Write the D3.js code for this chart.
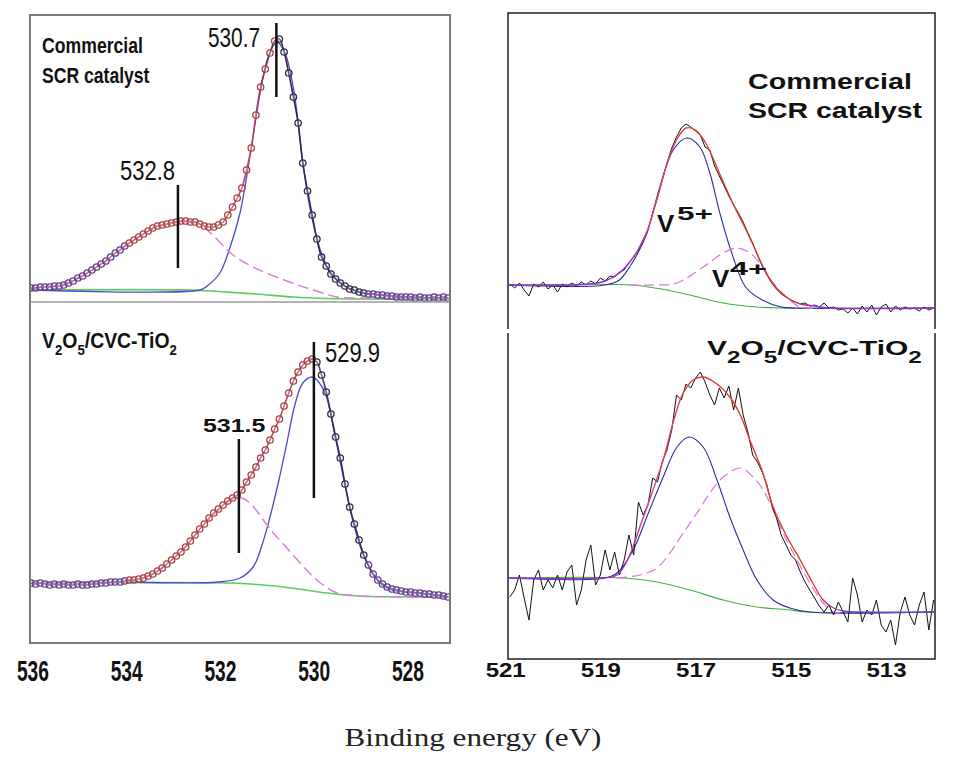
<!DOCTYPE html>
<html><head><meta charset="utf-8">
<script src="https://cdn.jsdelivr.net/npm/d3@7"></script>
<style>body{margin:0;background:#fff}svg{display:block}</style>
</head><body>
<svg id="c" width="960" height="783"></svg>
<script>
// ---------------- DATA ----------------
// O 1s spectra (left panels): measured points, energy grid 536.0 -> 527.1 eV step 0.1
const o1sStart = 536.0, o1sStep = 0.1;
const o1sCommercial = [15,15,16,16,16,17,17,18,20,22,
  25,27,30,33,36,39,42,46,50,53,
  57,60,63,66,69,72,75,77,78,79,
  80,81,82,82,81,81,79,77,76,76,
  78,81,88,96,105,115,133,155,188,216,
  234,250,262,264,251,230,206,180,140,112,
  88,64,46,37,29,24,20,17,14,13,
  11,10,9,9,8,8,7,7,6,6,
  6,6,5,6,5,5,6,5,6,5];
const o1sCVC = [60,59,60,59,58,59,58,59,58,58,
  59,58,58,59,59,60,60,61,61,61,
  62,63,63,64,65,67,69,72,75,79,
  83,87,91,96,102,108,114,119,125,130,
  134,138,142,145,148,153,161,168,176,185,
  193,203,214,224,237,250,262,271,278,282,
  284,281,268,251,229,206,185,159,136,119,
  103,88,78,69,63,59,56,54,53,52,
  51,51,50,50,49,49,48,48,47,46];
// O 1s fitted components [eV, intensity]
const o1sLatticeCommercial = [[536.0,13],[532.4,13],[532.24,17],[531.97,30],[531.75,56],[531.54,90],[531.33,146],[531.11,210],[530.94,246],[530.75,261],[530.58,250],[530.39,212],[530.2,140],[530.0,84],[529.79,48],[529.6,30],[529.3,17],[529.0,11],[528.5,8],[527.9,6],[527.06,5]];
const o1sSurfaceCommercial = [[536.0,15],[535.5,17],[535.1,22],[534.6,36],[534.1,53],[533.5,72],[533.0,80],[532.7,82],[532.39,79],[532.24,73],[532.1,67],[531.69,48],[531.26,36],[530.54,22],[529.98,13],[529.47,6],[528.98,5],[527.06,5]];
const o1sBackgroundCommercial = [[536.0,13],[532.6,13],[532.0,11.5],[531.2,9],[530.4,6],[529.7,4.5],[529.2,4],[527.06,4]];
const o1sLatticeCVC = [[533.9,61],[532.0,61],[531.54,65],[531.26,76],[531.07,98],[530.9,126],[530.71,163],[530.54,200],[530.37,238],[530.2,260],[530.0,266],[529.88,262],[529.71,248],[529.5,204],[529.3,158],[529.11,118],[528.9,87],[528.6,62],[528.3,53],[527.7,50],[527.06,46]];
const o1sSurfaceCVC = [[536.0,60],[534.5,61],[533.8,63],[533.4,69],[533.0,83],[532.6,102],[532.2,124],[531.9,137],[531.65,145],[531.45,144],[531.25,136],[530.9,114],[530.54,95],[530.12,73],[529.85,61],[529.47,50],[529.0,47],[527.06,46]];
const o1sBackgroundCVC = [[536.0,60],[531.7,60],[531.2,58.5],[530.6,56],[530.0,52],[529.4,48.5],[529.0,47],[527.06,46]];
const o1sPeaksCommercial = [530.7, 532.8];
const o1sPeaksCVC = [529.9, 531.5];

// V 2p spectra (right panels): raw counts, energy grid 520.9 -> 512.0 eV step 0.1
const v2pStart = 520.9, v2pStep = 0.1;
const v2pCommercial = [46,42,47,40,34,46,43,48,41,45,
  38,46,43,47,44,48,45,49,46,52,
  49,54,53,58,60,67,73,80,90,100,
  117,132,150,167,182,193,202,206,203,199,
  195,183,180,164,154,144,134,125,117,108,
  97,87,75,64,55,47,41,36,33,30,
  28,26,27,24,25,23,27,22,23,20,
  21,17,22,16,24,18,25,15,23,26,
  18,24,20,23,21,22,19,23,20,22];
const v2pCVC = [62,69,84,61,39,79,89,69,79,71,
  84,69,87,94,54,69,99,114,74,84,
  109,89,107,84,99,124,104,157,144,154,
  181,177,197,209,229,264,259,275,271,281,
  287,277,264,254,271,261,273,249,271,244,
  227,204,197,187,174,154,141,124,114,104,
  99,87,77,69,61,53,47,54,44,57,
  47,37,81,64,37,49,44,59,34,27,
  39,14,47,62,44,34,54,67,29,59];
const v5Commercial = [[520.94,45],[518.9,45],[518.6,50],[518.4,62],[518.2,78],[518.02,97],[517.75,143],[517.47,180],[517.18,192],[516.91,183],[516.7,157],[516.49,117],[516.24,77],[515.95,43],[515.6,30],[515.2,23],[514.9,22],[511.97,22]];
const v4Commercial = [[518.4,45],[517.8,45],[517.39,47],[516.84,63],[516.42,77],[516.13,82],[515.86,77],[515.65,67],[515.37,47],[515.02,30],[514.81,23],[514.5,22]];
const v2pBgCommercial = [[520.94,45],[518.3,45],[518.0,43],[517.6,40],[517.12,35],[516.42,27],[515.71,23],[515.16,22],[511.97,22]];
const v2pFitCommercial = [[520.94,45],[519.2,46],[518.9,49],[518.6,57],[518.4,67],[518.2,81],[518.0,101],[517.8,133],[517.6,166],[517.4,190],[517.2,202],[517.0,200],[516.8,188],[516.6,168],[516.4,146],[516.2,125],[516.0,106],[515.8,86],[515.6,65],[515.4,48],[515.2,37],[515.0,30],[514.8,26],[514.5,24],[514.2,22],[511.97,22]];
const v5CVC = [[520.94,81],[518.9,81],[518.65,86],[518.31,109],[518.0,145],[517.68,182],[517.39,212],[517.14,222],[516.84,212],[516.55,179],[516.28,142],[516.0,109],[515.71,79],[515.37,59],[515.02,51],[514.6,47],[511.97,47]];
const v4CVC = [[518.65,81],[518.17,84],[517.81,91],[517.54,106],[517.26,126],[516.97,146],[516.7,166],[516.42,182],[516.06,191],[515.79,182],[515.58,169],[515.37,149],[515.16,126],[514.87,99],[514.6,76],[514.32,56],[514.11,47],[513.8,47]];
const v2pBgCVC = [[520.94,81],[518.5,81],[517.81,77],[517.12,69],[516.42,59],[515.71,52],[515.02,49],[514.66,47],[511.97,47]];
const v2pFitCVC = [[520.94,81],[519.0,81],[518.65,84],[518.4,102],[518.17,132],[517.9,168],[517.68,199],[517.45,240],[517.26,266],[517.05,279],[516.84,282],[516.55,275],[516.28,262],[516.05,243],[515.86,219],[515.6,188],[515.37,152],[515.1,124],[514.8,99],[514.55,77],[514.32,59],[514.1,51],[513.9,48],[513.6,47],[511.97,47]];

// tick labels
const o1sTicks = [536, 534, 532, 530, 528];
const v2pTicks = [521, 519, 517, 515, 513];
const axisTitle = "Binding energy (eV)";

// ---------------- DRAW ----------------
const svg = d3.select('#c');
const SANS = '"Liberation Sans", Arial, Helvetica, sans-serif';
const NARROW = '"Liberation Sans Narrow", "Liberation Sans", Arial, sans-serif';
const SERIF = '"Liberation Serif", "DejaVu Serif", "Times New Roman", serif';

const xL = d3.scaleLinear().domain([536.02, 527.06]).range([30, 450]);
const xR = d3.scaleLinear().domain([520.94, 511.97]).range([508, 935]);
const yLT = d3.scaleLinear().domain([0, 288]).range([303, 15]);
const yLB = d3.scaleLinear().domain([0, 340]).range([643, 303]);
const yRT = d3.scaleLinear().domain([0, 317]).range([330, 13]);
const yRB = d3.scaleLinear().domain([0, 329]).range([659, 330]);

const defs = svg.append('defs');
function clip(id, x, y, w, h) {
  defs.append('clipPath').attr('id', id).append('rect').attr('x', x).attr('y', y).attr('width', w).attr('height', h);
}
clip('cLT', 31, 16, 418, 286);
clip('cLB', 31, 303, 418, 339);
clip('cRT', 509, 14, 425, 316);
clip('cRB', 509, 331, 425, 327);

function grad(id, stops, x1, x2) {
  const g = defs.append('linearGradient').attr('id', id).attr('gradientUnits', 'userSpaceOnUse')
    .attr('x1', x1).attr('x2', x2).attr('y1', 0).attr('y2', 0);
  stops.forEach(s => g.append('stop').attr('offset', s[0]).attr('stop-color', s[1]));
}
grad('gLT', [[0, '#7a3f9a'], [0.1, '#b04a78'], [0.52, '#b84a6a'], [0.62, '#2a2a50'], [0.75, '#2a2a50'], [0.85, '#7040b0'], [1, '#7040b0']], 30, 450);
grad('gLB', [[0, '#7a3f9a'], [0.25, '#9a4a8a'], [0.4, '#b84a6a'], [0.66, '#a04a70'], [0.72, '#2a2a50'], [0.85, '#3a3a80'], [1, '#5a40b0']], 30, 450);
grad('gRT', [[0, '#9a30c8'], [0.28, '#9a30c8'], [0.34, '#e0407a'], [0.45, '#e03a30'], [0.65, '#e03a30'], [0.72, '#9a30c8'], [1, '#9a30c8']], 508, 935);
grad('gRB', [[0, '#9a30c8'], [0.26, '#9a30c8'], [0.33, '#e0407a'], [0.45, '#e03a30'], [0.72, '#e03a30'], [0.78, '#6a40c8'], [1, '#6a40c8']], 508, 935);

const curve = d3.curveCatmullRom.alpha(0.5);
function lineGen(x, y) { return d3.line().x(d => x(d[0])).y(d => y(d[1])).curve(curve); }
function series(start, step, vals) { return vals.map((v, i) => [+(start - i * step).toFixed(2), v]); }

function circColor(E, peak) {
  if (E > 533.9 || E < 528.9) return '#643a8a';
  return E > peak ? '#a8403f' : '#2e2e48';
}

function o1sPanel(clipId, y, meas, lattice, surface, bg, gradId, peak) {
  const g = svg.append('g').attr('clip-path', `url(#${clipId})`);
  const ln = lineGen(xL, y);
  g.append('path').attr('d', ln(bg)).attr('fill', 'none').attr('stroke', '#5ccc5c').attr('stroke-width', 1.6);
  g.append('path').attr('d', ln(lattice)).attr('fill', 'none').attr('stroke', '#4a4ad0').attr('stroke-width', 1.3);
  g.append('path').attr('d', ln(surface)).attr('fill', 'none').attr('stroke', '#e07ad8').attr('stroke-width', 1.4).attr('stroke-dasharray', '11,5');
  const pts = series(o1sStart, o1sStep, meas);
  g.append('path').attr('d', ln(pts)).attr('fill', 'none').attr('stroke', `url(#${gradId})`).attr('stroke-width', 1.6);
  g.selectAll('circle').data(pts).join('circle')
    .attr('cx', d => xL(d[0])).attr('cy', d => y(d[1])).attr('r', 3.2)
    .attr('fill', 'rgba(255,255,255,0.25)').attr('stroke', d => circColor(d[0], peak)).attr('stroke-width', 1.3);
}

function v2pPanel(clipId, y, raw, v5, v4, bg, fit, gradId) {
  const g = svg.append('g').attr('clip-path', `url(#${clipId})`);
  const ln = lineGen(xR, y);
  const lnRaw = d3.line().x(d => xR(d[0])).y(d => y(d[1]));
  g.append('path').attr('d', ln(bg)).attr('fill', 'none').attr('stroke', '#3cb43c').attr('stroke-width', 1.1);
  g.append('path').attr('d', ln(v5)).attr('fill', 'none').attr('stroke', '#2a2aa0').attr('stroke-width', 1.1);
  g.append('path').attr('d', ln(v4)).attr('fill', 'none').attr('stroke', '#e070e0').attr('stroke-width', 1.2).attr('stroke-dasharray', '10,5');
  g.append('path').attr('d', lnRaw(series(v2pStart, v2pStep, raw))).attr('fill', 'none').attr('stroke', '#111').attr('stroke-width', 1);
  g.append('path').attr('d', ln(fit)).attr('fill', 'none').attr('stroke', `url(#${gradId})`).attr('stroke-width', 1.4);
}

o1sPanel('cLT', yLT, o1sCommercial, o1sLatticeCommercial, o1sSurfaceCommercial, o1sBackgroundCommercial, 'gLT', 530.7);
o1sPanel('cLB', yLB, o1sCVC, o1sLatticeCVC, o1sSurfaceCVC, o1sBackgroundCVC, 'gLB', 529.9);
v2pPanel('cRT', yRT, v2pCommercial, v5Commercial, v4Commercial, v2pBgCommercial, v2pFitCommercial, 'gRT');
v2pPanel('cRB', yRB, v2pCVC, v5CVC, v4CVC, v2pBgCVC, v2pFitCVC, 'gRB');

// frames
svg.append('rect').attr('x', 30).attr('y', 15).attr('width', 420).attr('height', 628)
  .attr('fill', 'none').attr('stroke', '#7a7a7a').attr('stroke-width', 2);
svg.append('line').attr('x1', 30).attr('x2', 450).attr('y1', 302).attr('y2', 302)
  .attr('stroke', '#9a9a9a').attr('stroke-width', 1.6);
svg.append('path').attr('d', 'M508,329V13H935V329').attr('fill', 'none').attr('stroke', '#222').attr('stroke-width', 1.5);
svg.append('path').attr('d', 'M508,333V659H935V333').attr('fill', 'none').attr('stroke', '#222').attr('stroke-width', 1.5);

// peak markers
const markLen = {530.7: [23, 97], 532.8: [185, 268], 529.9: [342, 498], 531.5: [439, 553]};
o1sPeaksCommercial.concat(o1sPeaksCVC).forEach(p => {
  svg.append('line').attr('x1', xL(p) - 3).attr('x2', xL(p) - 3)
    .attr('y1', markLen[p][0]).attr('y2', markLen[p][1]).attr('stroke', '#111').attr('stroke-width', 2.5);
});

// fitted text helper: parts [{t,size,dy}], scaled horizontally to width
function fitText(x, y, parts, o) {
  const g = svg.append('g').attr('transform', `translate(${x},${y})`);
  const t = g.append('text').attr('font-family', o.family).attr('font-weight', o.weight || 'bold')
    .attr('fill', o.fill || '#111').attr('text-anchor', o.anchor || 'start');
  parts.forEach(p => t.append('tspan').attr('font-size', p.size).attr('dy', p.dy || 0).text(p.t));
  const w = t.node().getBBox().width;
  if (o.width && w > 0) t.attr('transform', `scale(${o.width / w},1)`);
  return g;
}

// left labels
fitText(42, 53, [{t: 'Commercial', size: 22}], {family: NARROW, width: 101});
fitText(42, 83, [{t: 'SCR catalyst', size: 22}], {family: NARROW, width: 108});
fitText(208, 47, [{t: o1sPeaksCommercial[0].toFixed(1), size: 27}], {family: NARROW, weight: 'normal', width: 52});
fitText(120, 180, [{t: o1sPeaksCommercial[1].toFixed(1), size: 27}], {family: NARROW, weight: 'normal', width: 55});
fitText(42, 348, [{t: 'V', size: 22}, {t: '2', size: 15, dy: 7}, {t: 'O', size: 22, dy: -7}, {t: '5', size: 15, dy: 7},
  {t: '/CVC-TiO', size: 22, dy: -7}, {t: '2', size: 15, dy: 7}], {family: NARROW, width: 135});
fitText(325, 362, [{t: o1sPeaksCVC[0].toFixed(1), size: 27}], {family: NARROW, weight: 'normal', width: 55});
fitText(203, 432, [{t: o1sPeaksCVC[1].toFixed(1), size: 19}], {family: SANS, width: 63});

// right labels
fitText(748, 89, [{t: 'Commercial', size: 22}], {family: SANS, width: 164});
fitText(748, 118, [{t: 'SCR catalyst', size: 22}], {family: SANS, width: 175});
fitText(657, 232, [{t: 'V', size: 23}], {family: SANS, width: 18});
fitText(677, 220, [{t: '5+', size: 19}], {family: SANS, width: 36});
fitText(712, 287, [{t: 'V', size: 23}], {family: SANS, width: 18});
fitText(730, 275, [{t: '4+', size: 19}], {family: SANS, width: 37});
fitText(707, 355, [{t: 'V', size: 21}, {t: '2', size: 17, dy: 8}, {t: 'O', size: 21, dy: -8}, {t: '5', size: 17, dy: 8},
  {t: '/CVC-TiO', size: 21, dy: -8}, {t: '2', size: 17, dy: 8}], {family: SANS, width: 215});

// axes
const axL = svg.append('g').attr('transform', 'translate(0,643)')
  .call(d3.axisBottom(xL).tickValues(o1sTicks).tickSize(0).tickFormat(d3.format('d')));
axL.select('.domain').remove();
axL.selectAll('text').attr('y', 38).attr('dy', 0).attr('font-family', NARROW).attr('font-weight', 'bold')
  .attr('font-size', 30).attr('fill', '#111').attr('textLength', 32).attr('lengthAdjust', 'spacingAndGlyphs')
  .attr('dx', 1.5);

const axR = svg.append('g').attr('transform', 'translate(0,659)')
  .call(d3.axisBottom(xR).tickValues(v2pTicks).tickSize(0).tickFormat(d3.format('d')));
axR.select('.domain').remove();
axR.selectAll('text').attr('y', 18).attr('dy', 0).attr('font-family', SANS).attr('font-weight', 'bold')
  .attr('font-size', 21).attr('fill', '#111').attr('textLength', 40).attr('lengthAdjust', 'spacingAndGlyphs');

fitText(473, 746, [{t: axisTitle, size: 25}], {family: SERIF, weight: 'normal', width: 257, anchor: 'middle', fill: '#222'});
</script>
</body></html>
